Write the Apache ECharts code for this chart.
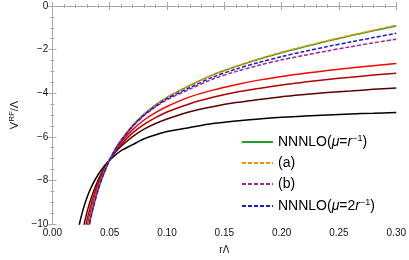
<!DOCTYPE html>
<html><head><meta charset="utf-8">
<script src="https://cdn.jsdelivr.net/npm/echarts@6/dist/echarts.min.js"></script>
<style>html,body{margin:0;padding:0;background:#fff}#c{width:409px;height:260px}</style>
</head><body><div id="c"></div>
<script>
const rVals = [0.02,0.022,0.024,0.026,0.028,0.03,0.032,0.035,0.04,0.045,0.05,0.055,0.06,0.07,0.08,0.09,0.1,0.12,0.14,0.16,0.18,0.2,0.22,0.24,0.26,0.28,0.3];
const blackV  = [-11.0,-10.40,-9.91,-9.49,-9.13,-8.82,-8.54,-8.19,-7.73,-7.36,-7.07,-6.83,-6.63,-6.36,-6.09,-5.91,-5.76,-5.57,-5.39,-5.27,-5.18,-5.10,-5.05,-5.00,-4.95,-4.92,-4.89];
const maroonV = [-12.56,-11.72,-11.03,-10.44,-9.94,-9.50,-9.12,-8.63,-7.97,-7.46,-7.05,-6.71,-6.43,-5.99,-5.65,-5.39,-5.18,-4.85,-4.62,-4.43,-4.29,-4.16,-4.06,-3.97,-3.90,-3.82,-3.76];
const darkRedV= [-13.38,-12.42,-11.63,-10.95,-10.38,-9.87,-9.44,-8.87,-8.11,-7.52,-7.05,-6.66,-6.34,-5.82,-5.43,-5.12,-4.86,-4.48,-4.19,-3.96,-3.78,-3.62,-3.49,-3.37,-3.27,-3.17,-3.08];
const redV    = [-14.14,-13.07,-12.18,-11.43,-10.78,-10.22,-9.72,-9.09,-8.24,-7.58,-7.05,-6.61,-6.25,-5.67,-5.23,-4.89,-4.61,-4.17,-3.86,-3.61,-3.40,-3.23,-3.09,-2.96,-2.84,-2.74,-2.64];
const greenV  = [-14.67,-13.53,-12.59,-11.78,-11.09,-10.49,-9.96,-9.28,-8.36,-7.64,-7.05,-6.56,-6.15,-5.48,-4.96,-4.54,-4.19,-3.64,-3.16,-2.78,-2.44,-2.14,-1.87,-1.61,-1.37,-1.14,-0.92];
const orangeV = [-14.67,-13.53,-12.59,-11.78,-11.09,-10.49,-9.96,-9.28,-8.36,-7.64,-7.05,-6.56,-6.15,-5.48,-4.96,-4.54,-4.19,-3.64,-3.16,-2.77,-2.43,-2.12,-1.85,-1.59,-1.34,-1.11,-0.88];
const purpleV = [-14.8,-13.65,-12.7,-11.9,-11.2,-10.6,-10.08,-9.36,-8.41,-7.67,-7.06,-6.58,-6.18,-5.53,-5.03,-4.63,-4.30,-3.81,-3.35,-3.01,-2.72,-2.47,-2.26,-2.06,-1.87,-1.69,-1.52];
const blueV   = [-14.9,-13.75,-12.8,-11.98,-11.28,-10.67,-10.12,-9.39,-8.43,-7.68,-7.06,-6.57,-6.17,-5.51,-5.00,-4.59,-4.25,-3.74,-3.26,-2.90,-2.59,-2.32,-2.08,-1.86,-1.65,-1.45,-1.25];
const legendNames = ['NNNLO(μ=r⁻¹)','(a)','(b)','NNNLO(μ=2r⁻¹)'];
const xTicks = {min:0, max:0.3, interval:0.05};
const yTicks = {min:-10, max:0, interval:2};

const pts = v => rVals.map((r,i)=>[r,v[i]]);
const FONT = 'Liberation Sans, Arial, sans-serif';
const frame = '#a8a8a8';
function mkX(pos, show){
  return {type:'value', position:pos, min:xTicks.min, max:xTicks.max, interval:xTicks.interval,
    axisLine:{show:true,lineStyle:{color:frame,width:1}},
    axisTick:{show:true,inside:true,length:4,lineStyle:{color:frame}},
    minorTick:{show:true,splitNumber:5,length:2,lineStyle:{color:frame}},
    splitLine:{show:false},
    axisLabel:{show:show,fontSize:10,color:'#111',fontFamily:FONT,margin:4,formatter:v=>v.toFixed(2)},
    name: show?'rΛ':'', nameLocation:'middle', nameGap:21,
    nameTextStyle:{fontSize:10,color:'#111',fontFamily:FONT}};
}
function mkY(pos, show){
  return {type:'value', position:pos, min:yTicks.min, max:yTicks.max, interval:yTicks.interval,
    axisLine:{show:true,lineStyle:{color:frame,width:1}},
    axisTick:{show:true,inside:true,length:4,lineStyle:{color:frame}},
    minorTick:{show:true,splitNumber:4,length:2,lineStyle:{color:frame}},
    splitLine:{show:false},
    axisLabel:{show:show,fontSize:10,color:'#111',fontFamily:FONT,margin:4,
      formatter:v=> v<0 ? '\u2212'+Math.abs(v) : String(v)},
    name: show?'{v|V}{s|RF}{v|/Λ}':'', nameLocation:'middle', nameGap:29, nameRotate:90,
    nameTextStyle:{fontSize:11,color:'#111',fontFamily:FONT,
      rich:{v:{fontSize:11,fontFamily:FONT,color:'#111',lineHeight:14},
            s:{fontSize:8,fontFamily:FONT,color:'#111',lineHeight:14,verticalAlign:'top'}}}};
}
function line(name,data,color,dashed){
  return {name:name,type:'line',data:pts(data),symbol:'none',smooth:0.3,
    xAxisIndex:0,yAxisIndex:0,clip:true,
    lineStyle:{color:color,width:1.5,type:dashed?[4,2]:'solid'},itemStyle:{color:color}};
}
const chart = echarts.init(document.getElementById('c'),null,{renderer:'canvas'});
chart.setOption({
  animation:false,
  backgroundColor:'#fff',
  grid:{left:42,right:10,top:6,bottom:33},
  xAxis:[mkX('bottom',true), mkX('top',false)],
  yAxis:[mkY('left',true), mkY('right',false)],
  legend:{data:legendNames, orient:'vertical', left:236, top:129, itemWidth:31, itemHeight:14, itemGap:7,
    itemStyle:{opacity:0, color:'rgba(0,0,0,0)', borderColor:'rgba(0,0,0,0)', borderWidth:0},
    textStyle:{fontSize:14,color:'#000',fontFamily:FONT,
      rich:{i:{fontSize:14,fontStyle:'italic',fontFamily:FONT,lineHeight:16},
            n:{fontSize:14,fontFamily:FONT,lineHeight:16},
            s:{fontSize:9,fontFamily:FONT,lineHeight:16,verticalAlign:'top'}}},
    formatter:function(n){
      if(n===legendNames[0]) return '{n|NNNLO(}{i|μ}{n|=}{i|r}{s|−1}{n|)}';
      if(n===legendNames[3]) return '{n|NNNLO(}{i|μ}{n|=2}{i|r}{s|−1}{n|)}';
      return '{n|'+n+'}';
    }},
  series:[
    line('black',blackV,'#000000',false),
    line('maroon',maroonV,'#5a0000',false),
    line('darkred',darkRedV,'#b00000',false),
    line('red',redV,'#ff0000',false),
    line(legendNames[0],greenV,'#20a020',false),
    line(legendNames[1],orangeV,'#ff8c00',true),
    line(legendNames[2],purpleV,'#a020a0',true),
    line(legendNames[3],blueV,'#1a1acc',true)
  ]
});
</script></body></html>
